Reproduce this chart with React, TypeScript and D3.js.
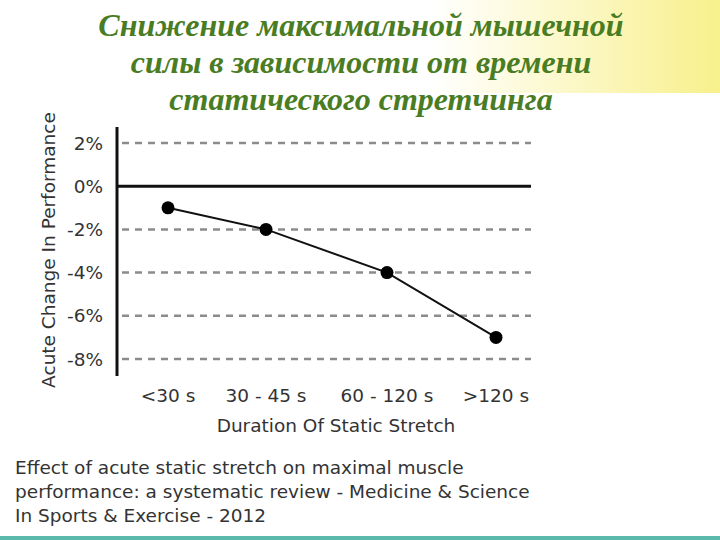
import React, {useEffect, useRef} from 'react'
import * as d3 from 'd3'

const categories = ['<30 s', '30 - 45 s', '60 - 120 s', '>120 s'];
const values = [-1, -2, -4, -7];
const yTicks = [2, 0, -2, -4, -6, -8];
const titleLines = ['Снижение максимальной мышечной', 'силы в зависимости от времени', 'статического стретчинга'];
const captionLines = [
    'Effect of acute static stretch on maximal muscle',
    'performance: a systematic review - Medicine & Science',
    'In Sports & Exercise - 2012'
];

const width = 720;
const height = 540;

export default function App() {
    const ref = useRef<SVGSVGElement>(null);

    useEffect(() => {
        const svg = d3.select(ref.current);
        svg.selectAll('*').remove();

        const defs = svg.append('defs');
        const grad = defs.append('linearGradient').attr('id', 'bg').attr('x1', 0).attr('x2', 1).attr('y1', 0).attr('y2', 0);
        grad.append('stop').attr('offset', '0.6').attr('stop-color', '#ffffff');
        grad.append('stop').attr('offset', '1').attr('stop-color', '#f8f08c');

        svg.append('rect').attr('width', width).attr('height', height).attr('fill', '#fff');
        svg.append('rect').attr('width', width).attr('height', 93).attr('fill', 'url(#bg)');
        svg.append('rect').attr('y', 536).attr('width', width).attr('height', 4).attr('fill', '#5ab9ab');

        // title
        svg.append('g')
            .attr('font-family', 'Liberation Serif')
            .attr('font-style', 'italic')
            .attr('font-weight', 'bold')
            .attr('font-size', 32)
            .attr('fill', '#4a7c23')
            .attr('text-anchor', 'middle')
            .selectAll('text')
            .data(titleLines)
            .join('text')
            .attr('x', 361)
            .attr('y', (d, i) => 36 + i * 37)
            .text(d => d);

        // categories are placed at the positions they hold in the original figure
        const x = d3.scaleOrdinal<string, number>()
            .domain(categories)
            .range([168, 266, 387, 496]);

        const y = d3.scaleLinear()
            .domain([-8, 2])
            .range([359, 143]);

        const plotLeft = 117, plotRight = 531;
        const textColor = '#333';

        // grid
        svg.append('g')
            .selectAll('line')
            .data(yTicks.filter(t => t !== 0))
            .join('line')
            .attr('x1', plotLeft + 5)
            .attr('x2', plotRight)
            .attr('y1', d => y(d))
            .attr('y2', d => y(d))
            .attr('stroke', '#8c8c8c')
            .attr('stroke-width', 2.5)
            .attr('stroke-dasharray', '7,6');

        svg.append('line')
            .attr('x1', plotLeft).attr('x2', plotRight)
            .attr('y1', y(0)).attr('y2', y(0))
            .attr('stroke', '#111').attr('stroke-width', 3);

        svg.append('line')
            .attr('x1', plotLeft).attr('x2', plotLeft)
            .attr('y1', 127).attr('y2', 376)
            .attr('stroke', '#111').attr('stroke-width', 3);

        // y ticks
        svg.append('g')
            .attr('font-family', 'DejaVu Sans')
            .attr('font-size', 18.5)
            .attr('fill', textColor)
            .attr('text-anchor', 'end')
            .selectAll('text')
            .data(yTicks)
            .join('text')
            .attr('x', 103)
            .attr('y', d => y(d))
            .attr('dy', '0.36em')
            .text(d => `${d}%`);

        // x labels
        svg.append('g')
            .attr('font-family', 'DejaVu Sans')
            .attr('font-size', 18.5)
            .attr('fill', textColor)
            .attr('text-anchor', 'middle')
            .selectAll('text')
            .data(categories)
            .join('text')
            .attr('x', d => x(d))
            .attr('y', 402)
            .text(d => d);

        svg.append('text')
            .attr('x', 336).attr('y', 432)
            .attr('font-family', 'DejaVu Sans')
            .attr('font-size', 18.5)
            .attr('fill', textColor)
            .attr('text-anchor', 'middle')
            .text('Duration Of Static Stretch');

        svg.append('text')
            .attr('transform', `translate(55,250) rotate(-90)`)
            .attr('font-family', 'DejaVu Sans')
            .attr('font-size', 18.5)
            .attr('fill', textColor)
            .attr('text-anchor', 'middle')
            .text('Acute Change In Performance');

        const line = d3.line<number>()
            .x((d, i) => x(categories[i]))
            .y(d => y(d));

        svg.append('path')
            .attr('d', line(values))
            .attr('fill', 'none')
            .attr('stroke', '#111')
            .attr('stroke-width', 2);

        svg.append('g')
            .selectAll('circle')
            .data(values)
            .join('circle')
            .attr('cx', (d, i) => x(categories[i]))
            .attr('cy', d => y(d))
            .attr('r', 6.5)
            .attr('fill', '#000');

        // caption
        svg.append('g')
            .attr('font-family', 'DejaVu Sans')
            .attr('font-size', 18.5)
            .attr('fill', textColor)
            .selectAll('text')
            .data(captionLines)
            .join('text')
            .attr('x', 15)
            .attr('y', (d, i) => 474 + i * 24)
            .text(d => d);
    }, []);

    return <svg ref={ref} width={width} height={height}
                style={{position: 'absolute', left: 0, top: 0}}/>;
}
